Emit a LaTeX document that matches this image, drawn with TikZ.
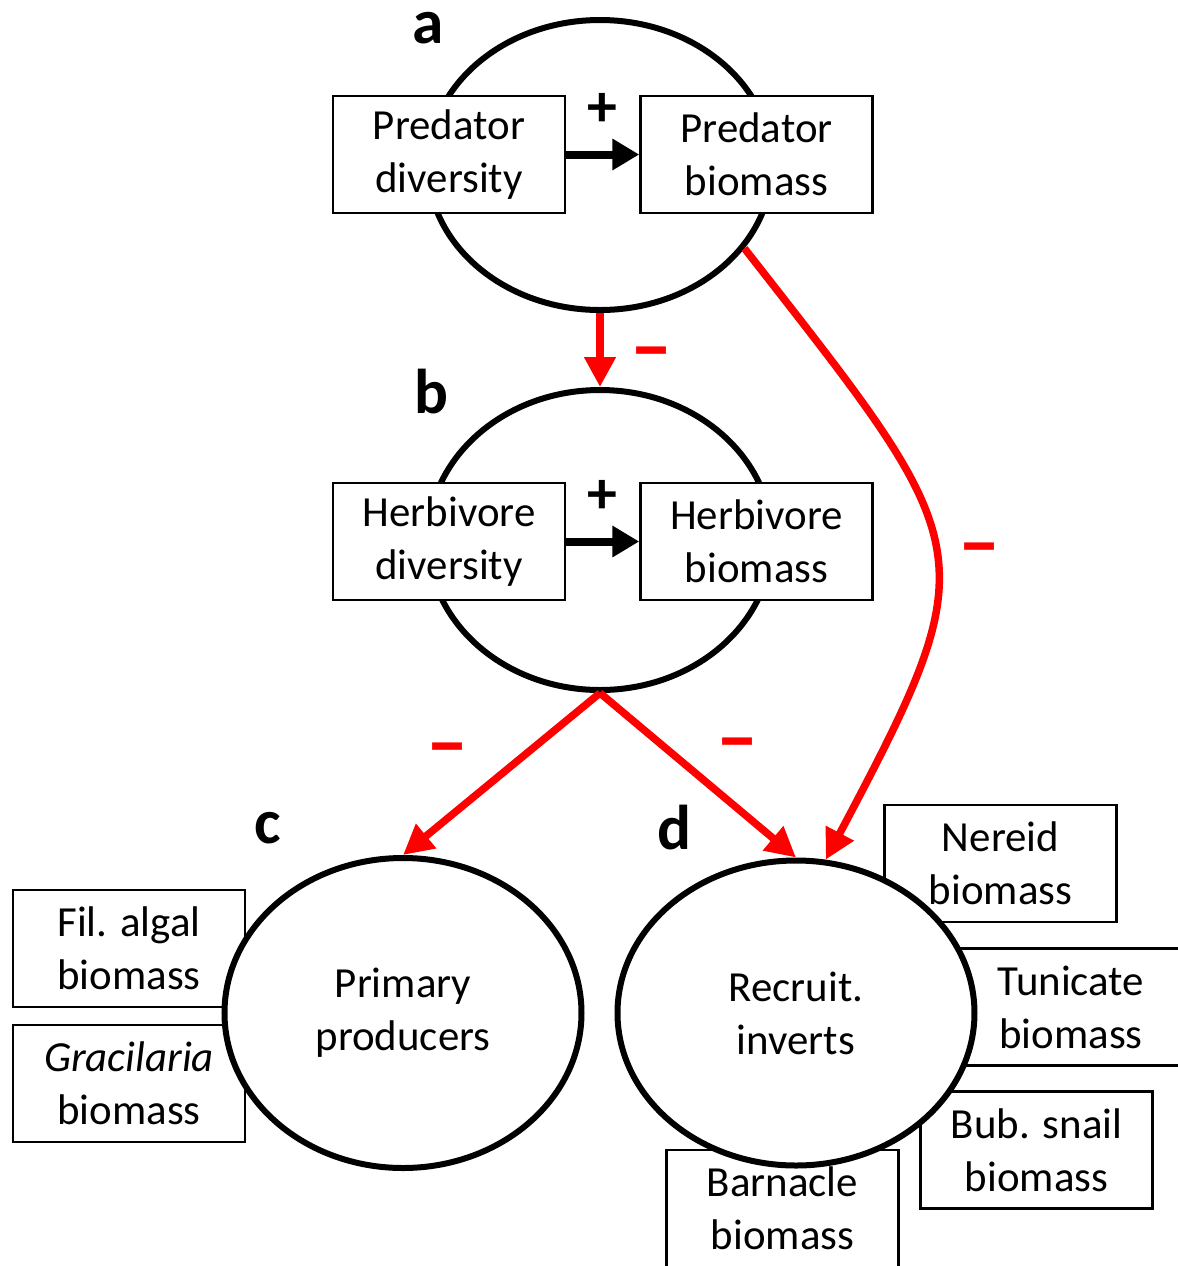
\documentclass[tikz,border=0pt]{standalone}
\usepackage{fontspec}
\setmainfont{Carlito}
\usetikzlibrary{shapes.geometric,arrows.meta}
\tikzset{
  group/.style={
    shape = ellipse,
    draw,
    line width = 0.06cm,
    fill = white,
    inner sep = 0cm,
    align = center,
    font = \fontsize{12.2}{15.1}\selectfont
  },
  varbox/.style={
    draw,
    fill = white,
    line width = 0.025cm,
    minimum width = 2.32cm,
    minimum height = 1.17cm,
    align = center,
    inner sep = 0cm,
    font = \fontsize{12.2}{15.1}\selectfont
  },
  posarrow/.style={
    line width = 0.08cm,
    -{Triangle[length=0.27cm,width=0.3cm]}
  },
  negarrow/.style={
    red,
    line width = 0.075cm,
    -{Triangle[length=0.3cm,width=0.3cm]}
  },
  sign/.style={font=\fontsize{17}{17}\selectfont\bfseries},
  minus/.style={red, font=\fontsize{24}{24}\selectfont\bfseries},
  panel/.style={font=\fontsize{18}{18}\selectfont\bfseries}
}

\begin{document}
\begin{tikzpicture}
        \useasboundingbox (0,0) rectangle (11.78,-12.66);
        \node[group, minimum width=3.44cm, minimum height=2.9cm] (ea) at (6.00,-1.65) {};
        \node[group, minimum width=3.44cm, minimum height=3.0cm] (eb) at (6.00,-5.40) {};
        \node[varbox] (pd) at (4.49,-1.545) {Predator\\diversity};
        \node[varbox] (pb) at (7.565,-1.545) {Predator\\biomass};
        \node[varbox] (hd) at (4.49,-5.415) {Herbivore\\diversity};
        \node[varbox] (hb) at (7.565,-5.415) {Herbivore\\biomass};
        \draw[posarrow] (pd) -- (pb) node[midway, above=0.12cm, sign] (pa) {+};
        \draw[posarrow] (hd) -- (hb) node[midway, above=0.12cm, sign] (pbb) {+};
        \node[varbox] (fa) at (1.29,-9.485) {Fil. algal\\biomass};
        \node[varbox] (gr) at (1.29,-10.835) {\textit{Gracilaria}\\biomass};
        \node[varbox] (ne) at (10.005,-8.635) {Nereid\\biomass};
        \node[varbox] (tu) at (10.71,-10.07) {Tunicate\\biomass};
        \node[varbox] (bs) at (10.365,-11.50) {Bub. snail\\biomass};
        \node[varbox] (ba) at (7.825,-12.085) {Barnacle\\biomass};
        \node[group, minimum width=3.57cm, minimum height=3.1cm] (ec) at (4.03,-10.13) {Primary\\producers};
        \node[group, minimum width=3.57cm, minimum height=3.05cm] (ed) at (7.96,-10.13) {Recruit.\\inverts};
        \node[panel] (la) at (4.28,-0.28) {a};
        \node[panel] (lb) at (4.31,-3.92) {b};
        \node[panel] (lc) at (2.68,-8.28) {c};
        \node[panel] (ld) at (6.74,-8.28) {d};
        \draw[negarrow] (ea.south) -- (eb.north);
        \draw[negarrow] (eb.south) -- (ec.north);
        \draw[negarrow] (eb.south) -- (ed.north);
        \draw[negarrow] (ea.-30) .. controls (9.80,-5.50) and (9.90,-5.50) .. (ed.79);
        \node[minus] (m1) at (6.52,-3.61) {–};
        \node[minus] (m2) at (9.80,-5.57) {–};
        \node[minus] (m3) at (4.48,-7.57) {–};
        \node[minus] (m4) at (7.38,-7.52) {–};
    \end{tikzpicture}
\end{document}
